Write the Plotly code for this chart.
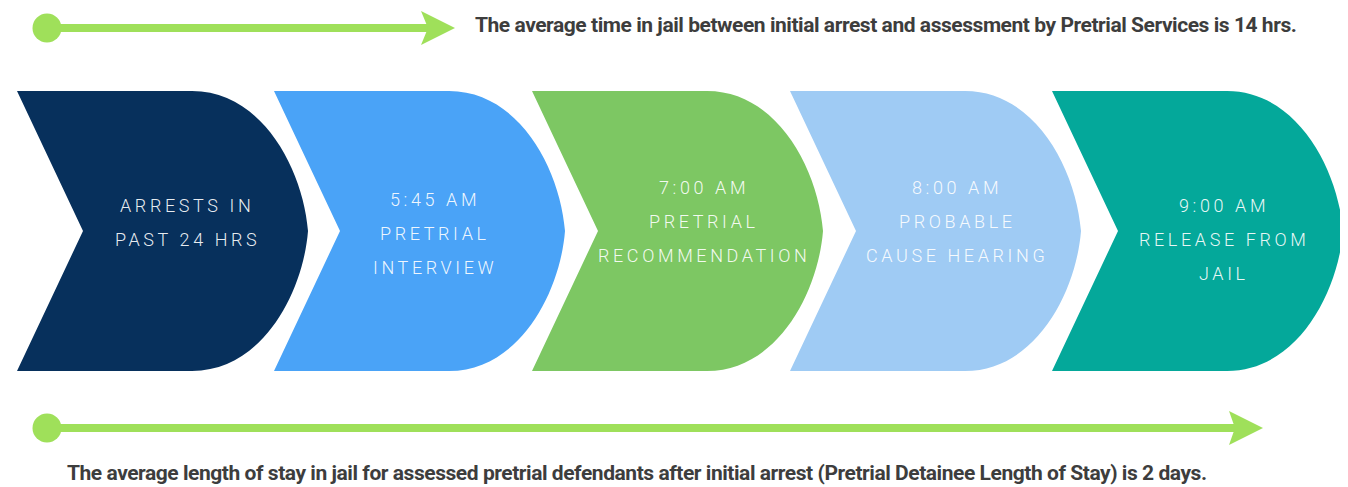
import plotly.graph_objects as go

# ---------------- data ----------------
step_lines = [
    ["ARRESTS IN", "PAST 24 HRS"],
    ["5:45 AM", "PRETRIAL", "INTERVIEW"],
    ["7:00 AM", "PRETRIAL", "RECOMMENDATION"],
    ["8:00 AM", "PROBABLE", "CAUSE HEARING"],
    ["9:00 AM", "RELEASE FROM", "JAIL"],
]
top_note = "The average time in jail between initial arrest and assessment by Pretrial Services is 14 hrs."
bottom_note = ("The average length of stay in jail for assessed pretrial defendants after initial arrest "
               "(Pretrial Detainee Length of Stay) is 2 days.")

# ---------------- layout / style ----------------
W, H = 1348, 487
PAGE_MARGIN = 8          # default body margin of the html page
step_colors = ["#07305c", "#4aa3f7", "#7dc763", "#9fcbf4", "#04a89a"]
step_left = [17, 274, 532, 790, 1052]          # left edge of each chevron
label_x = [187, 435, 704, 957, 1224]           # label centre
label_y0 = [205, 199, 187, 187, 205]           # first label line
line_gap = 34
TOP, BOT = 91, 371
MID = (TOP + BOT) / 2
SHAPE_W, NOTCH, FLAT = 291, 66, 175

arrow_color = "#9fe05a"
text_color = "#3d3d3d"
note_font = dict(family="Roboto", size=21, color=text_color)
note_style = "letter-spacing:-0.45px"

fig = go.Figure()
shapes = []

# chevrons
for left, col in zip(step_left, step_colors):
    L = left
    path = (f"M {L},{TOP} L {L+FLAT},{TOP} "
            f"C {L+245},{TOP} {L+286},{MID-62} {L+SHAPE_W},{MID} "
            f"C {L+286},{MID+62} {L+245},{BOT} {L+FLAT},{BOT} "
            f"L {L},{BOT} L {L+NOTCH},{MID} Z")
    shapes.append(dict(type="path", path=path, xref="x", yref="y",
                       fillcolor=col, line=dict(width=0), layer="below"))

# timeline arrows: (start x, notch x, back x, tip x, y, half head)
arrows = [(47, 428, 421, 455, 28, 17), (47, 1235, 1229, 1263, 428, 17)]
for x0, xn, xb, xt, y, hh in arrows:
    shapes.append(dict(type="line", x0=x0, x1=xn + 2, y0=y, y1=y, xref="x", yref="y",
                       line=dict(color=arrow_color, width=8)))
    shapes.append(dict(type="circle", x0=x0 - 14.5, x1=x0 + 14.5, y0=y - 14.5, y1=y + 14.5,
                       xref="x", yref="y", fillcolor=arrow_color, line=dict(width=0)))
    shapes.append(dict(type="path",
                       path=f"M {xb},{y-hh} L {xt},{y} L {xb},{y+hh} L {xn},{y} Z",
                       xref="x", yref="y", fillcolor=arrow_color, line=dict(width=0)))

annotations = []
for lines, cx, cy in zip(step_lines, label_x, label_y0):
    for i, ln in enumerate(lines):
        annotations.append(dict(
            x=cx, y=cy + i * line_gap, xref="x", yref="y", showarrow=False,
            text=f"<span style='letter-spacing:3.6px'>{ln}</span>",
            font=dict(family="Roboto", size=18, weight=300, color="rgba(255,255,255,0.92)"),
            xanchor="center", yanchor="middle"))

annotations.append(dict(x=473, y=25, xref="x", yref="y", showarrow=False,
                        text=f"<span style='{note_style}'><b>{top_note}</b></span>",
                        xanchor="left", yanchor="middle", font=note_font))
annotations.append(dict(x=65, y=473, xref="x", yref="y", showarrow=False,
                        text=f"<span style='{note_style}'><b>{bottom_note}</b></span>",
                        xanchor="left", yanchor="middle", font=note_font))

# the page adds an 8px margin, so the figure is shrunk by it and the axes
# keep 1 unit = 1 screen pixel
fig.update_layout(
    width=W - PAGE_MARGIN, height=H - PAGE_MARGIN, margin=dict(l=0, r=0, t=0, b=0),
    paper_bgcolor="white", plot_bgcolor="white",
    xaxis=dict(range=[PAGE_MARGIN, W], visible=False, fixedrange=True),
    yaxis=dict(range=[H, PAGE_MARGIN], visible=False, fixedrange=True),
    shapes=shapes, annotations=annotations, showlegend=False,
)
fig.write_html("out.html")
